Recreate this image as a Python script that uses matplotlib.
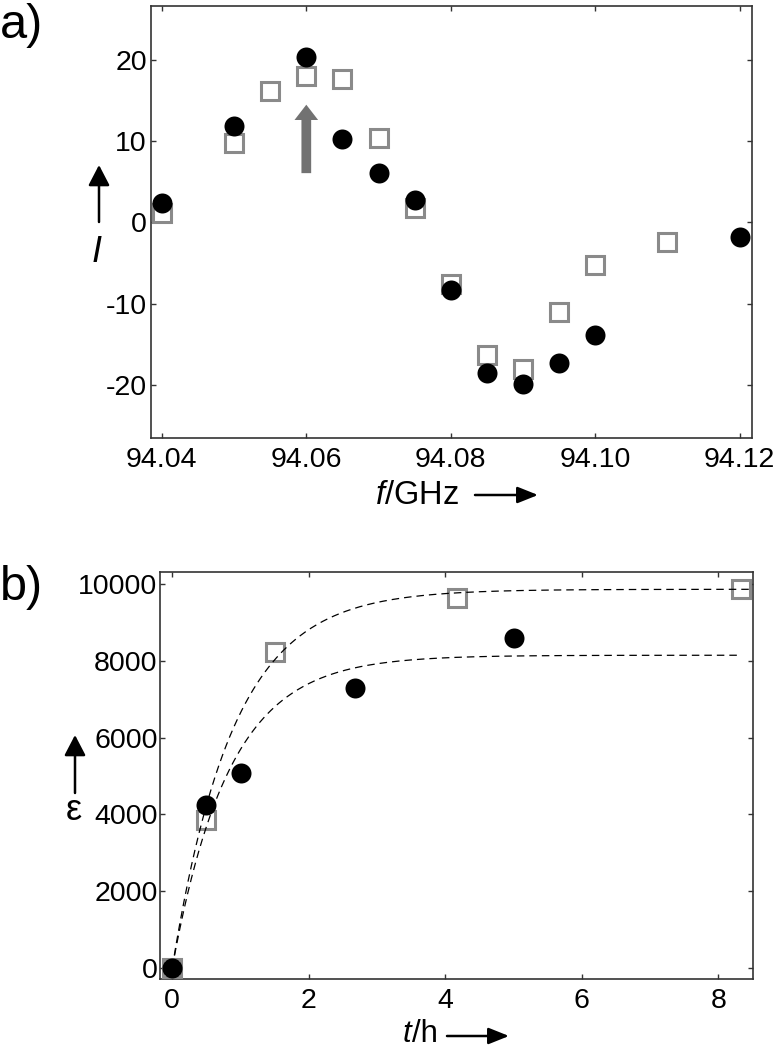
import numpy as np
import matplotlib
matplotlib.use("Agg")
import matplotlib.pyplot as plt
from matplotlib.patches import FancyArrowPatch

plt.rcParams['font.family'] = ['Liberation Sans', 'DejaVu Sans']
plt.rcParams['axes.unicode_minus'] = False
plt.rcParams['mathtext.fontset'] = 'custom'
plt.rcParams['mathtext.it'] = 'Liberation Sans:italic'
plt.rcParams['mathtext.rm'] = 'Liberation Sans'

# ---------------- data: panel a ----------------
freq_circles = [94.04, 94.05, 94.06, 94.065, 94.07, 94.075, 94.08, 94.085, 94.09, 94.095, 94.10, 94.12]
I_circles = [2.4, 11.8, 20.3, 10.3, 6.1, 2.7, -8.3, -18.5, -19.9, -17.3, -13.9, -1.8]
freq_squares = [94.04, 94.05, 94.055, 94.06, 94.065, 94.07, 94.075, 94.08, 94.085, 94.09, 94.095, 94.10, 94.11]
I_squares = [1.2, 9.8, 16.1, 18.0, 17.6, 10.4, 1.8, -7.6, -16.3, -18.0, -11.1, -5.2, -2.4]
a_xticks = [94.04, 94.06, 94.08, 94.10, 94.12]
a_xticklabels = ['94.04', '94.06', '94.08', '94.10', '94.12']
a_yticks = [-20, -10, 0, 10, 20]
gray_arrow_x = 94.06
gray_arrow_from = 5.7
gray_arrow_to = 14.8

# ---------------- data: panel b ----------------
t_circles = [0.0, 0.5, 1.0, 2.67, 5.0]
eps_circles = [0, 4245, 5087, 7289, 8594]
t_squares = [0.0, 0.5, 1.5, 4.17, 8.33]
eps_squares = [0, 3853, 8244, 9637, 9880]
b_xticks = [0, 2, 4, 6, 8]
b_yticks = [0, 2000, 4000, 6000, 8000, 10000]
# exponential fit parameters  eps = A (1 - exp(-k t))
fit_upper_A, fit_upper_k, fit_upper_tmax = 9870, 1.12, 8.45
fit_lower_A, fit_lower_k, fit_lower_tmax = 8150, 1.20, 8.34

W, H = 775, 1050
fig = plt.figure(figsize=(W / 100, H / 100), dpi=100)

SQ_COLOR = '#8a8a8a'
SPINE = '#333333'
FS = 20.5

def style_axes(ax, xpad, ypad):
    for s in ax.spines.values():
        s.set_color(SPINE)
        s.set_linewidth(1.2)
    ax.tick_params(direction='in', length=3.5, width=1, color=SPINE,
                   top=True, right=True, labelsize=FS)
    ax.tick_params(axis='x', pad=xpad)
    ax.tick_params(axis='y', pad=ypad)

# ---------------- panel a ----------------
axa = fig.add_axes([151 / W, 1 - 437.7 / H, (752 - 151) / W, (437.7 - 6) / H])
axa.plot(freq_squares, I_squares, linestyle='none', marker='s', ms=12.5,
         mfc='white', mec=SQ_COLOR, mew=2.2, zorder=3)
axa.plot(freq_circles, I_circles, linestyle='none', marker='o', ms=14.4,
         mfc='black', mec='black', mew=0, zorder=4)
arr = FancyArrowPatch((gray_arrow_x, gray_arrow_from), (gray_arrow_x, gray_arrow_to),
                      arrowstyle='simple,head_width=17,head_length=11,tail_width=7',
                      mutation_scale=1, color='#727272', lw=0, zorder=5)
axa.add_patch(arr)
axa.set_xlim(94.0385, 94.1217)
axa.set_ylim(-26.5, 26.6)
axa.set_xticks(a_xticks)
axa.set_xticklabels(a_xticklabels)
axa.set_yticks(a_yticks)
style_axes(axa, 7, 3)

# ---------------- panel b ----------------
axb = fig.add_axes([160.3 / W, 1 - 979.3 / H, (753.3 - 160.3) / W, (979.3 - 572) / H])
axb.plot(t_squares, eps_squares, linestyle='none', marker='s', ms=12.5,
         mfc='white', mec=SQ_COLOR, mew=2.2, zorder=3)
axb.plot(t_circles, eps_circles, linestyle='none', marker='o', ms=14.4,
         mfc='black', mec='black', mew=0, zorder=4)
tu = np.linspace(0, fit_upper_tmax, 300)
tl = np.linspace(0, fit_lower_tmax, 300)
axb.plot(tu, fit_upper_A * (1 - np.exp(-fit_upper_k * tu)), color='black',
         lw=0.9, linestyle=(0, (6, 4)), zorder=5)
axb.plot(tl, fit_lower_A * (1 - np.exp(-fit_lower_k * tl)), color='black',
         lw=0.9, linestyle=(0, (6, 4)), zorder=5)
axb.set_xlim(-0.175, 8.51)
axb.set_ylim(-303, 10321)
axb.set_xticks(b_xticks)
axb.set_yticks(b_yticks)
style_axes(axb, 6, 2)

# ---------------- labels & arrows ----------------
def fx(x):
    return x / W

def fy(y):
    return 1 - y / H

def black_arrow(x0, y0, x1, y1, hw=5.5):
    p = FancyArrowPatch((fx(x0), fy(y0)), (fx(x1), fy(y1)), transform=fig.transFigure,
                        arrowstyle=f'-|>,head_length=12.5,head_width={hw}', mutation_scale=1,
                        color='black', lw=1.8, shrinkA=0, shrinkB=0)
    fig.add_artist(p)

fig.text(fx(0), fy(26), 'a)', fontsize=35, ha='left', va='center')
fig.text(fx(0), fy(588), 'b)', fontsize=35, ha='left', va='center')

# panel a axis labels
fig.text(fx(97), fy(252), 'I', fontsize=26, fontstyle='italic', ha='center', va='center')
black_arrow(99, 222, 99, 165, hw=6.5)
fig.text(fx(375), fy(495), '$f$/GHz', fontsize=23.5, ha='left', va='center')
black_arrow(475, 495, 538, 495, hw=5)

# panel b axis labels
fig.text(fx(73.5), fy(810), 'ε', fontsize=26, ha='center', va='center')
black_arrow(75, 793, 75, 735, hw=6.5)
fig.text(fx(403), fy(1042), 't', fontsize=22.5, fontstyle='italic', ha='left', va='baseline')
fig.text(fx(412), fy(1042), '/h', fontsize=22.5, ha='left', va='baseline')
black_arrow(447, 1036, 509, 1036, hw=5)

fig.savefig('out.png', dpi=100)
